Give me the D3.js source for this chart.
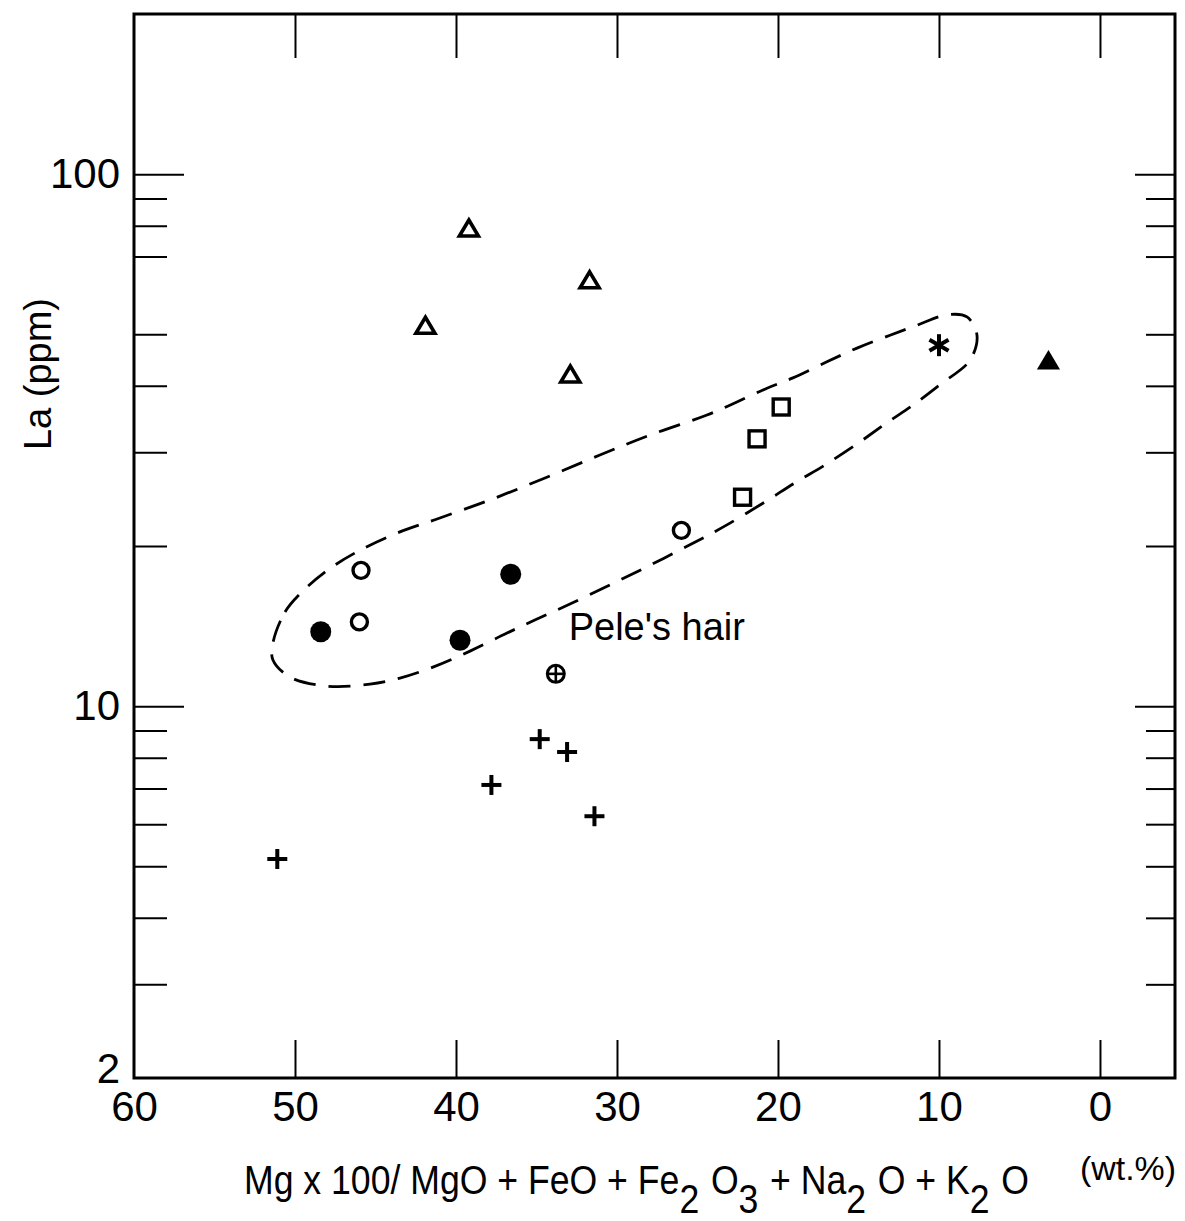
<!DOCTYPE html>
<html>
<head>
<meta charset="utf-8">
<script src="https://cdn.jsdelivr.net/npm/d3@7"></script>
<style>
  html, body { margin: 0; padding: 0; background: #fff; }
  svg { display: block; }
  text { font-family: "Liberation Sans", Arial, sans-serif; fill: #000; }
</style>
</head>
<body>
<svg id="chart" width="1185" height="1221"></svg>
<script>
// ---- data (x = Mg-number, y = La ppm) ----
const xTickValues = [60, 50, 40, 30, 20, 10, 0];
const xTickLabels = ["60", "50", "40", "30", "20", "10", "0"];
const yMajorTicks = [2, 10, 100];
const yMajorLabels = ["2", "10", "100"];
const yMinorTicks = [3, 4, 5, 6, 7, 8, 9, 20, 30, 40, 50, 60, 70, 80, 90];

const openTriangles = [[39.2, 79.2], [31.7, 63.3], [41.9, 52.0], [32.9, 42.1]];
const filledTriangles = [[3.2, 44.7]];
const asterisks = [[10.0, 47.7]];
const openSquares = [[19.8, 36.5], [21.3, 31.8], [22.2, 24.7]];
const openCircles = [[26.0, 21.4], [45.9, 18.0], [46.0, 14.4]];
const filledCircles = [[48.4, 13.8], [39.75, 13.3], [36.6, 17.7]];
const circledPlus = [[33.8, 11.5]];
const plusSigns = [[34.8, 8.67], [33.1, 8.2], [37.8, 7.11], [31.4, 6.21], [51.1, 5.16]];

const envelope = [
  [51.37, 13.14], [50.62, 15.03], [49.57, 16.39], [48.14, 17.87], [46.27, 19.41],
  [43.66, 21.15], [41.0, 22.58], [37.89, 24.41], [34.47, 26.85], [31.06, 29.65],
  [27.95, 32.33], [24.41, 35.26], [22.55, 37.3], [20.68, 39.6], [19.07, 41.4],
  [16.96, 44.4], [15.09, 47.1], [13.04, 49.8], [11.37, 52.0], [9.5, 54.4],
  [8.26, 53.9], [7.64, 49.8], [8.07, 44.7], [9.94, 40.2], [11.61, 36.8],
  [13.23, 34.1], [15.03, 31.2], [17.08, 28.4], [18.94, 26.3], [20.81, 24.2],
  [23.42, 21.7], [25.47, 20.1], [27.95, 18.4], [30.43, 16.9], [32.92, 15.56],
  [34.97, 14.58], [36.83, 13.72], [39.13, 12.69], [41.43, 11.84], [43.48, 11.29],
  [45.34, 11.0], [47.95, 10.9], [50.31, 11.34], [51.37, 12.21]
];
const peleLabel = { text: "Pele's hair", at: [33.0, 13.3] };
const xTitleParts = [
  ["Mg x 100/ MgO + FeO + Fe", 0], ["2", 1], [" O", 0], ["3", 1], [" + Na", 0], ["2", 1],
  [" O + K", 0], ["2", 1], [" O", 0]
];

// ---- layout ----
const svg = d3.select("#chart");
const L = 134, R = 1175, T = 14, B = 1078;
const x = d3.scaleLinear().domain([60, -4.66]).range([L, R]);
const y = d3.scaleLog().domain([2, 200]).range([B, T]);

const g = svg.append("g");

// frame
g.append("rect").attr("x", L).attr("y", T).attr("width", R - L).attr("height", B - T)
  .attr("fill", "none").attr("stroke", "#000").attr("stroke-width", 3);

function styleAxis(sel, fontSize) {
  sel.select(".domain").remove();
  sel.selectAll(".tick line").attr("stroke", "#000").attr("stroke-width", 2);
  sel.selectAll(".tick text").attr("font-size", fontSize)
    .attr("font-family", '"Liberation Sans", Arial, sans-serif').attr("fill", "#000");
}

// bottom axis (labels)
g.append("g").attr("transform", `translate(0,${B})`)
  .call(d3.axisBottom(x).tickValues(xTickValues).tickFormat((d, i) => xTickLabels[i])
    .tickSize(-38).tickPadding(13))
  .call(s => styleAxis(s, 42));
// top axis (ticks only)
g.append("g").attr("transform", `translate(0,${T})`)
  .call(d3.axisTop(x).tickValues(xTickValues.slice(1)).tickFormat("").tickSize(-44))
  .call(s => styleAxis(s, 0));

// left axis
const leftAx = g.append("g").attr("transform", `translate(${L},0)`)
  .call(d3.axisLeft(y).tickValues(yMajorTicks).tickFormat((d, i) => yMajorLabels[i])
    .tickSize(-50).tickPadding(14))
  .call(s => styleAxis(s, 42));
leftAx.selectAll(".tick").filter(d => d === 2).select("text").attr("dy", "0.1em");
g.append("g").attr("transform", `translate(${L},0)`)
  .call(d3.axisLeft(y).tickValues(yMinorTicks).tickFormat("").tickSize(-33))
  .call(s => styleAxis(s, 0));
// right axis
g.append("g").attr("transform", `translate(${R},0)`)
  .call(d3.axisRight(y).tickValues([10, 100]).tickFormat("").tickSize(-40))
  .call(s => styleAxis(s, 0));
g.append("g").attr("transform", `translate(${R},0)`)
  .call(d3.axisRight(y).tickValues(yMinorTicks).tickFormat("").tickSize(-29))
  .call(s => styleAxis(s, 0));
g.selectAll(".tick line").filter(d => d === 2 || d === 60).remove();

// envelope
const line = d3.line().x(d => x(d[0])).y(d => y(d[1])).curve(d3.curveCatmullRomClosed.alpha(0.5));
g.append("path").datum(envelope).attr("d", line)
  .attr("fill", "none").attr("stroke", "#000").attr("stroke-width", 2.8)
  .attr("stroke-dasharray", "22,13");

// markers
const pt = d => `translate(${x(d[0])},${y(d[1])})`;
const tri = (w, h) => `M0,${-h / 2}L${w / 2},${h / 2}L${-w / 2},${h / 2}Z`;

g.selectAll(".otri").data(openTriangles).join("path")
  .attr("transform", pt).attr("d", tri(19, 16))
  .attr("fill", "none").attr("stroke", "#000").attr("stroke-width", 3.6).attr("stroke-linejoin", "miter");

g.selectAll(".ftri").data(filledTriangles).join("path")
  .attr("transform", pt).attr("d", tri(20, 17))
  .attr("fill", "#000").attr("stroke", "#000").attr("stroke-width", 1.8);

g.selectAll(".sq").data(openSquares).join("rect")
  .attr("transform", pt).attr("x", -8).attr("y", -8).attr("width", 16).attr("height", 16)
  .attr("fill", "none").attr("stroke", "#000").attr("stroke-width", 3.4);

g.selectAll(".oc").data(openCircles).join("circle")
  .attr("transform", pt).attr("r", 8)
  .attr("fill", "none").attr("stroke", "#000").attr("stroke-width", 3.4);

g.selectAll(".fc").data(filledCircles).join("circle")
  .attr("transform", pt).attr("r", 10.5).attr("fill", "#000");

const ast = g.selectAll(".ast").data(asterisks).join("g").attr("transform", pt);
[90, 30, 150].forEach(a => {
  const r = 11, rad = a * Math.PI / 180;
  ast.append("line").attr("x1", -r * Math.cos(rad)).attr("y1", -r * Math.sin(rad))
    .attr("x2", r * Math.cos(rad)).attr("y2", r * Math.sin(rad))
    .attr("stroke", "#000").attr("stroke-width", 4);
});

const plus = g.selectAll(".plus").data(plusSigns).join("g").attr("transform", pt);
plus.append("line").attr("x1", -10).attr("x2", 10).attr("y1", 0).attr("y2", 0)
  .attr("stroke", "#000").attr("stroke-width", 4);
plus.append("line").attr("x1", 0).attr("x2", 0).attr("y1", -10).attr("y2", 10)
  .attr("stroke", "#000").attr("stroke-width", 4);

const cp = g.selectAll(".cp").data(circledPlus).join("g").attr("transform", pt);
cp.append("circle").attr("r", 8.5).attr("fill", "none").attr("stroke", "#000").attr("stroke-width", 3);
cp.append("line").attr("x1", -8.5).attr("x2", 8.5).attr("stroke", "#000").attr("stroke-width", 2.6);
cp.append("line").attr("y1", -8.5).attr("y2", 8.5).attr("stroke", "#000").attr("stroke-width", 2.6);

// annotation
g.append("text").attr("x", x(peleLabel.at[0])).attr("y", y(peleLabel.at[1]))
  .attr("font-size", 38).text(peleLabel.text);

// y-axis title
g.append("text").attr("transform", "translate(51,374) rotate(-90)")
  .attr("text-anchor", "middle").attr("font-size", 38).text("La (ppm)");

// x-axis title: separate, non-overlapping segments, horizontally condensed
const xtG = g.append("g");
let cx = 0;
xTitleParts.forEach(([t, sub]) => {
  const el = xtG.append("text").attr("x", cx).attr("y", sub ? 19 : 0)
    .attr("font-size", 40).attr("xml:space", "preserve").style("white-space", "pre").text(t);
  cx += el.node().getComputedTextLength() + (sub ? 2 : 0);
});
const sx = 785 / cx;
xtG.attr("transform", `translate(244,1194) scale(${sx},1)`);

g.append("text").attr("x", 1080).attr("y", 1180).attr("font-size", 34)
  .attr("textLength", 96).attr("lengthAdjust", "spacingAndGlyphs").text("(wt.%)");
</script>
</body>
</html>
